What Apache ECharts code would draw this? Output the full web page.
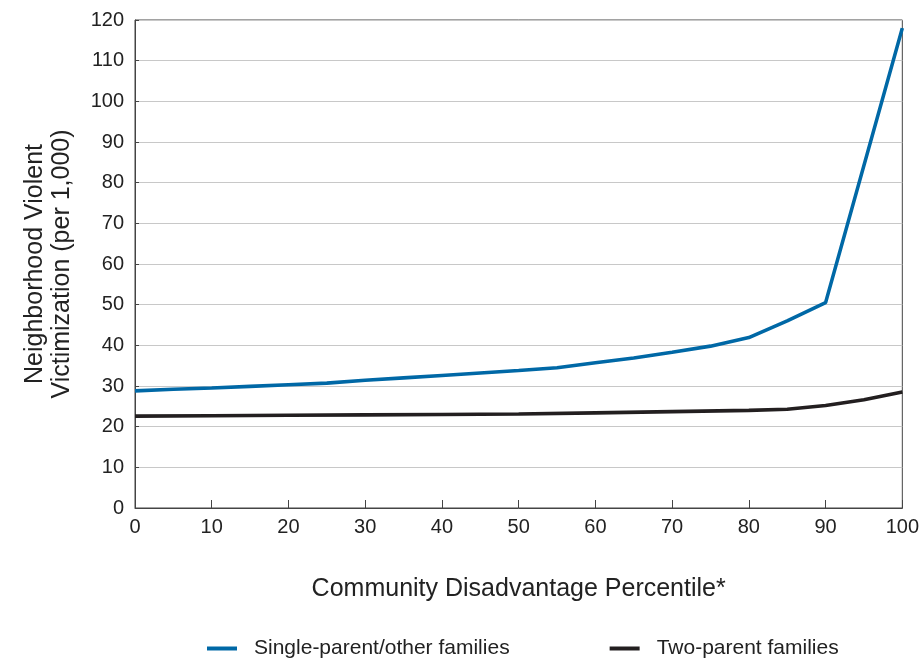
<!DOCTYPE html>
<html>
<head>
<meta charset="utf-8">
<script src="https://cdn.jsdelivr.net/npm/echarts@6/dist/echarts.min.js"></script>
<style>html,body{margin:0;padding:0;background:#fff;}#c{width:922px;height:660px;}</style>
</head>
<body>
<div id="c"></div>
<script>
const singleX = [0, 5, 10, 15, 20, 25, 30, 35, 40, 45, 50, 55, 60, 65, 70, 75, 80, 85, 90, 100];
const singleY = [28.8, 29.2, 29.5, 29.9, 30.3, 30.7, 31.4, 32.0, 32.6, 33.2, 33.8, 34.5, 35.7, 36.9, 38.3, 39.8, 41.9, 46.0, 50.5, 118];
const twoX = [0, 10, 20, 30, 40, 50, 60, 70, 80, 85, 90, 95, 100];
const twoY = [22.6, 22.7, 22.8, 22.9, 23.0, 23.1, 23.4, 23.7, 24.0, 24.3, 25.2, 26.6, 28.5];
const seriesNames = ['Single-parent/other families', 'Two-parent families'];
const xTitle = 'Community Disadvantage Percentile*';
const yTitle = 'Neighborhood Violent\nVictimization (per 1,000)';

const font = 'Liberation Sans, Arial, sans-serif';
const chart = echarts.init(document.getElementById('c'));
const pairs = (xs, ys) => xs.map((x, i) => [x, ys[i]]);
chart.setOption({
  animation: false,
  grid: { left: 135, right: 14, top: 20, bottom: 152, show: true, borderColor: '#444', borderWidth: 1 },
  legend: {
    bottom: -4, left: 202, itemGap: 100, itemWidth: 30, itemHeight: 4,
    textStyle: { fontFamily: font, fontSize: 21, color: '#222', padding: [0, 0, 0, 12] },
    data: [
      { name: seriesNames[0], icon: 'rect' },
      { name: seriesNames[1], icon: 'rect' }
    ]
  },
  xAxis: {
    type: 'value', min: 0, max: 100, interval: 10,
    name: xTitle, nameLocation: 'middle', nameGap: 69,
    nameTextStyle: { fontFamily: font, fontSize: 25, color: '#222' },
    axisLine: { show: true, lineStyle: { color: '#444' } },
    axisTick: { show: true, inside: true, length: 8, lineStyle: { color: '#444' } },
    axisLabel: { fontFamily: font, fontSize: 20, color: '#222', margin: 9 },
    splitLine: { show: false }
  },
  yAxis: {
    type: 'value', min: 0, max: 120, interval: 10,
    name: yTitle, nameLocation: 'middle', nameGap: 59, nameRotate: 90,
    nameTextStyle: { fontFamily: font, fontSize: 25, color: '#222', lineHeight: 27, align: 'center' },
    axisLine: { show: true, lineStyle: { color: '#444' } },
    axisTick: { show: true, inside: true, length: 4, lineStyle: { color: '#444' } },
    axisLabel: { fontFamily: font, fontSize: 20, color: '#222', margin: 11 },
    splitLine: { show: true, lineStyle: { color: '#c8c8c8', width: 1.2 } }
  },
  series: [
    { name: seriesNames[0], type: 'line', data: pairs(singleX, singleY), showSymbol: false, smooth: false,
      lineStyle: { color: '#0068a6', width: 3.6 }, itemStyle: { color: '#0068a6' } },
    { name: seriesNames[1], type: 'line', data: pairs(twoX, twoY), showSymbol: false, smooth: false,
      lineStyle: { color: '#231f20', width: 3.6 }, itemStyle: { color: '#231f20' } }
  ]
});
</script>
</body>
</html>
